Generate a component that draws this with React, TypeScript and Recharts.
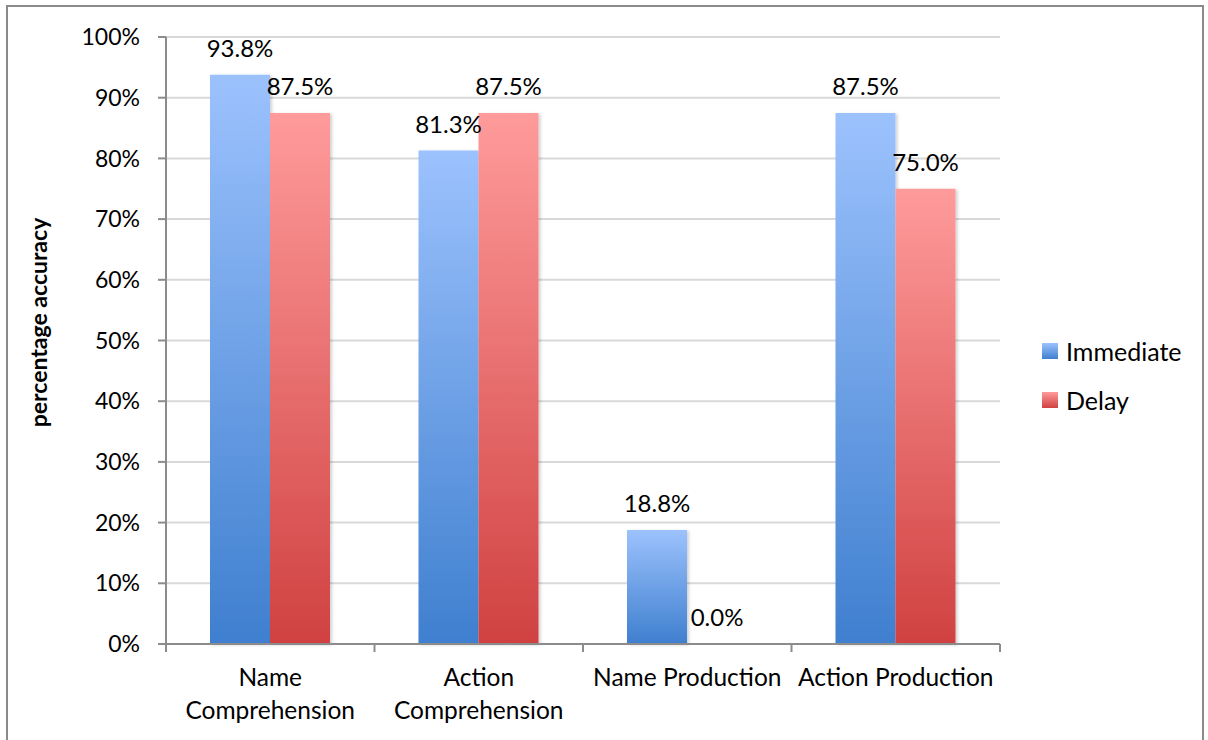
import { BarChart, Bar, XAxis, YAxis, CartesianGrid, LabelList, Legend } from "recharts";

const categories = ["Name Comprehension", "Action Comprehension", "Name Production", "Action Production"];
const immediateValues = [93.8, 81.3, 18.8, 87.5];
const delayValues = [87.5, 87.5, 0.0, 75.0];
const yTicks = [0, 10, 20, 30, 40, 50, 60, 70, 80, 90, 100];

const data = categories.map((name, i) => ({
    name,
    immediate: immediateValues[i],
    delay: delayValues[i],
}));

const FONT = "Lato, 'Open Sans', sans-serif";
const PLOT_WIDTH = 1208 - 166 - 208;
const BAND = PLOT_WIDTH / categories.length;

const SERIES = [
    { key: "immediate", label: "Immediate", top: "#9cc2fd", bottom: "#3f7fcf", grad: "gImm" },
    { key: "delay", label: "Delay", top: "#ff9b9b", bottom: "#d04141", grad: "gDel" },
];

// long category names wrap onto two lines, like the Excel axis does
const wrapLabel = (s: string) => (s.length > 17 ? s.split(" ") : [s]);

// eslint-disable-next-line @typescript-eslint/no-explicit-any
const CategoryTick = (props: any) => {
    const { x, y, index } = props;
    const last = index === categories.length - 1;
    const lines = wrapLabel(String(props.payload.value));
    return (
        <g>
            <line x1={x - BAND / 2} y1={y} x2={x - BAND / 2} y2={y + 8} stroke="#8c8c8c" strokeWidth={2} />
            {last && <line x1={x + BAND / 2} y1={y} x2={x + BAND / 2} y2={y + 8} stroke="#8c8c8c" strokeWidth={2} />}
            <text x={x} y={y + 42} textAnchor="middle" fontSize={24.5} fontFamily={FONT} fill="#000">
                {lines.map((l, i) => (
                    <tspan key={i} x={x} dy={i === 0 ? 0 : 33}>
                        {l}
                    </tspan>
                ))}
            </text>
        </g>
    );
};

const LegendContent = () => (
    <div style={{ fontFamily: FONT, fontSize: 25, color: "#000" }}>
        {SERIES.map((s) => (
            <div key={s.key} style={{ display: "flex", alignItems: "center", height: 49 }}>
                <span
                    style={{
                        display: "inline-block",
                        width: 16,
                        height: 16,
                        marginRight: 8,
                        background: `linear-gradient(${s.top}, ${s.bottom})`,
                    }}
                />
                {s.label}
            </div>
        ))}
    </div>
);

export default function App() {
    return (
        <div style={{ position: "absolute", left: 0, top: 0, width: 1208, height: 740, background: "#fff" }}>
            <div
                style={{
                    position: "absolute",
                    left: 6,
                    top: 5,
                    width: 1194,
                    height: 760,
                    border: "2px solid #8a8a8a",
                }}
            />
            <BarChart
                width={1208}
                height={740}
                data={data}
                margin={{ top: 37, right: 208, bottom: 0, left: 0 }}
                barGap={0}
                barSize={60}
                style={{ fontFamily: FONT }}
            >
                <defs>
                    {SERIES.map((s) => (
                        <linearGradient key={s.grad} id={s.grad} x1="0" y1="0" x2="0" y2="1">
                            <stop offset="0%" stopColor={s.top} />
                            <stop offset="100%" stopColor={s.bottom} />
                        </linearGradient>
                    ))}
                    <filter id="barShadow" x="-10%" y="-10%" width="130%" height="130%">
                        <feDropShadow dx="2" dy="1" stdDeviation="1.5" floodColor="#000" floodOpacity="0.18" />
                    </filter>
                </defs>
                <CartesianGrid vertical={false} stroke="#d9d9d9" strokeWidth={2} />
                <XAxis
                    dataKey="name"
                    height={96}
                    tickSize={0}
                    tickMargin={0}
                    tickLine={false}
                    axisLine={{ stroke: "#8c8c8c", strokeWidth: 2 }}
                    interval={0}
                    tick={CategoryTick}
                />
                <YAxis
                    width={166}
                    domain={[0, 100]}
                    ticks={yTicks}
                    interval={0}
                    tickFormatter={(v: number) => `${v}%`}
                    tickSize={8}
                    tickMargin={18}
                    tickLine={{ stroke: "#8c8c8c", strokeWidth: 2 }}
                    axisLine={{ stroke: "#8c8c8c", strokeWidth: 2 }}
                    tick={{ fill: "#000", fontSize: 23, fontFamily: FONT }}
                    label={{
                        // eslint-disable-next-line @typescript-eslint/no-explicit-any
                        content: ((p: any) => {
                            const vb = p.viewBox;
                            const cx = vb.x + 38;
                            const cy = vb.y + vb.height / 2 - 18;
                            return (
                                <text
                                    x={cx}
                                    y={cy}
                                    transform={`rotate(-90 ${cx} ${cy})`}
                                    textAnchor="middle"
                                    dominantBaseline="central"
                                    fontSize={23}
                                    fontWeight="bold"
                                    fontFamily={FONT}
                                    fill="#000"
                                >
                                    percentage accuracy
                                </text>
                            );
                        }) as any,
                    }}
                />
                <Legend
                    layout="horizontal"
                    verticalAlign="middle"
                    align="center"
                    content={LegendContent}
                    wrapperStyle={{ left: 1042, top: 326, width: 160 }}
                />
                {SERIES.map((s) => (
                    <Bar
                        key={s.key}
                        dataKey={s.key}
                        name={s.label}
                        fill={`url(#${s.grad})`}
                        filter="url(#barShadow)"
                        minPointSize={0.5}
                        isAnimationActive={false}
                    >
                        <LabelList
                            dataKey={s.key}
                            position="top"
                            offset={18}
                            fontSize={24}
                            fontFamily={FONT}
                            fill="#000"
                            formatter={((v: number) => `${v.toFixed(1)}%`) as any}
                        />
                    </Bar>
                ))}
            </BarChart>
        </div>
    );
}
